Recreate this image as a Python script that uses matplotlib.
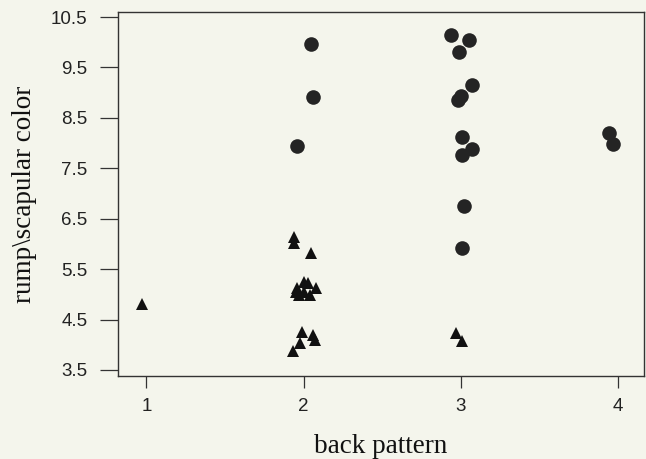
import matplotlib
matplotlib.use("Agg")
import matplotlib.pyplot as plt
import numpy as np

# circles (jittered back pattern, rump\scapular color)
circ_x = [2.05, 2.06, 1.96,
          2.94, 3.05, 2.99, 3.07, 2.98, 3.00, 3.01, 3.07, 3.01, 3.02, 3.01,
          3.94, 3.97]
circ_y = [9.97, 8.92, 7.95,
          10.15, 10.05, 9.81, 9.16, 8.86, 8.94, 8.12, 7.88, 7.77, 6.75, 5.92,
          8.20, 7.99]

# triangles
tri_x = [0.97,
         1.94, 1.94, 2.05,
         2.00, 2.03, 1.96, 2.08, 2.00, 1.97, 2.04, 1.95,
         1.99, 2.06, 2.07, 1.98, 1.93,
         2.97, 3.01]
tri_y = [4.81,
         6.14, 6.02, 5.82,
         5.25, 5.23, 5.13, 5.13, 5.05, 4.99, 4.99, 5.05,
         4.26, 4.20, 4.10, 4.04, 3.87,
         4.24, 4.08]

xticks = [1, 2, 3, 4]
yticks = [3.5, 4.5, 5.5, 6.5, 7.5, 8.5, 9.5, 10.5]

bg = '#f4f5ec'
fig = plt.figure(figsize=(6.46, 4.59), dpi=100, facecolor=bg)
ax = fig.add_axes([0.1827, 0.1808, 0.8143, 0.7931], facecolor=bg)

ax.plot(circ_x, circ_y, 'o', color='#242424', markersize=10.5, markeredgewidth=0)
ax.plot(tri_x, tri_y, '^', color='#111111', markersize=8, markeredgewidth=0)

ax.set_xlim(0.82, 4.165)
ax.set_ylim(3.38, 10.6)
ax.set_xticks(xticks)
ax.set_xticklabels([str(t) for t in xticks], family='Liberation Sans', fontsize=13.5, color='#222222')
ax.set_yticks(yticks)
ax.set_yticklabels([str(t) for t in yticks], family='Liberation Sans', fontsize=13.5, color='#222222')
ax.tick_params(axis='y', length=13, width=0.9, pad=9, color='#333333')
ax.tick_params(axis='x', length=8.5, width=0.9, pad=7, color='#333333')
for s in ax.spines.values():
    s.set_linewidth(1.0)
    s.set_color('#333333')

ax.set_xlabel('back pattern', family='Liberation Serif', fontsize=19.5, color='#111111', labelpad=14)
ax.set_ylabel('rump\\scapular color', family='Liberation Serif', fontsize=19.5, color='#111111', labelpad=10)

fig.savefig('out.png', dpi=100, facecolor=bg)
